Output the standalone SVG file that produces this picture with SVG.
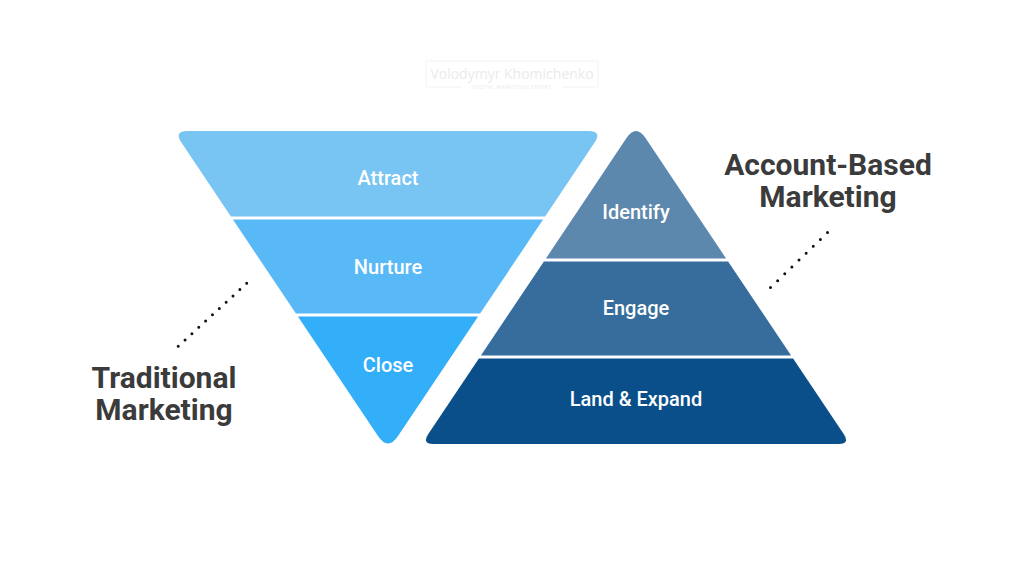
<svg xmlns="http://www.w3.org/2000/svg" width="1024" height="576" viewBox="0 0 1024 576">
  <style>
    .lbl { font-family: Roboto, "Liberation Sans", sans-serif; font-weight: 500; font-size: 20px; fill: #ffffff; text-anchor: middle; }
    .ttl { font-family: Roboto, "Liberation Sans", sans-serif; font-weight: 700; font-size: 30px; fill: #3b3b3b; text-anchor: middle; }
    .dots { fill: none; stroke: #111111; stroke-width: 3; stroke-linecap: round; }
    .wm { font-family: "Open Sans", "Liberation Sans", sans-serif; fill: #ebebeb; text-anchor: middle; }
  </style>
  <rect width="1024" height="576" fill="#ffffff"/>

  <g id="watermark">
    <path d="M 462 87 L 426 87 L 426 61 L 598 61 L 598 87 L 562 87" fill="none" stroke="#f2f2f2" stroke-width="1"/>
    <text class="wm" x="512" y="79" font-size="14">Volodymyr Khomichenko</text>
    <text class="wm" x="512" y="89" font-size="5" letter-spacing="0.5">DIGITAL MARKETING EXPERT</text>
  </g>

  <g id="funnel">
    <g id="attract">
      <path d="M 187.6 131 L 588.4 131 Q 602.4 131 594.6 142.6 L 545.1 216.5 L 230.9 216.5 L 181.4 142.6 Q 173.6 131 187.6 131 Z" fill="#78c4f2"/>
      <text class="lbl" x="388" y="185">Attract</text>
    </g>
    <g id="nurture">
      <path d="M 232.9 219.5 L 543.1 219.5 L 480.1 313.5 L 295.9 313.5 Z" fill="#58b9f6"/>
      <text class="lbl" x="388" y="274">Nurture</text>
    </g>
    <g id="close">
      <path d="M 297.9 316.5 L 478.1 316.5 L 398 436 Q 388 451 378 436 Z" fill="#33aef8"/>
      <text class="lbl" x="388" y="372">Close</text>
    </g>
  </g>

  <g id="pyramid">
    <g id="identify">
      <path d="M 626.5 138.1 Q 636 124 645.5 138.1 L 726.1 258.5 L 545.9 258.5 Z" fill="#5d88ae"/>
      <text class="lbl" x="636" y="219">Identify</text>
    </g>
    <g id="engage">
      <path d="M 543.9 261.5 L 728.1 261.5 L 791.1 355.5 L 480.9 355.5 Z" fill="#376d9c"/>
      <text class="lbl" x="636" y="315">Engage</text>
    </g>
    <g id="land-expand">
      <path d="M 478.9 358.5 L 793.1 358.5 L 843.7 434 Q 850.4 444 838.4 444 L 433.6 444 Q 421.6 444 428.3 434 Z" fill="#0b4f8a"/>
      <text class="lbl" x="636" y="406">Land &amp; Expand</text>
    </g>
  </g>

  <g id="traditional-label">
    <text class="ttl" x="164" y="388">Traditional</text>
    <text class="ttl" x="164" y="420">Marketing</text>
  </g>

  <g id="abm-label">
    <text class="ttl" x="828" y="175">Account-Based</text>
    <text class="ttl" x="828" y="207">Marketing</text>
  </g>

  <g id="connectors">
    <path class="dots" d="M 246.7 283.3 L 177.7 346.7" stroke-dasharray="0 9.3"/>
    <path class="dots" d="M 827.5 232.5 L 770 288" stroke-dasharray="0 9.9"/>
  </g>
</svg>
